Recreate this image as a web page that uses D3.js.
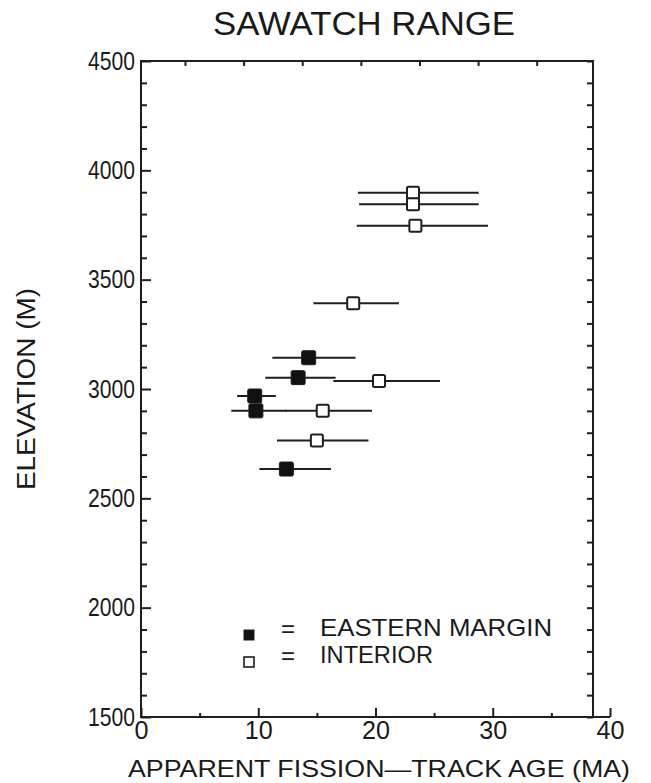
<!DOCTYPE html>
<html>
<head>
<meta charset="utf-8">
<script src="https://cdn.jsdelivr.net/npm/d3@7"></script>
<style>
  body { margin: 0; background: #fff; }
  svg text { font-family: "Liberation Sans", Arial, sans-serif; fill: #1a1a1a; }
</style>
</head>
<body>
<div id="graph"></div>
<script>
// elevation (m) and apparent fission-track age (Ma) with error range
var easternElev = [3143, 3052, 2968, 2900, 2634];
var easternAge  = [14.3, 13.4, 9.7, 9.8, 12.4];
var easternLo   = [11.2, 10.6, 8.2, 7.7, 10.1];
var easternHi   = [18.3, 16.6, 11.5, 12.4, 16.2];

var interiorElev = [3898, 3845, 3746, 3392, 3037, 2900, 2764];
var interiorAge  = [23.2, 23.2, 23.4, 18.1, 20.3, 15.5, 15.0];
var interiorLo   = [18.5, 18.6, 18.4, 14.7, 16.4, 12.3, 11.6];
var interiorHi   = [28.8, 28.8, 29.6, 22.0, 25.5, 19.7, 19.4];

var yMajor = [1500, 2000, 2500, 3000, 3500, 4000, 4500];
var xMajor = [0, 10, 20, 30, 40];
var xMinor = [5, 15, 25, 35];
var xTop   = [3.75, 8.75, 13.75, 18.75, 23.75, 28.75, 33.75];

var W = 651, H = 783;
var pLeft = 141, pRight = 593, pTop = 61, pBottom = 717;

var svg = d3.select('#graph').append('svg')
    .attr('width', W)
    .attr('height', H);

var x = d3.scaleLinear().domain([0, 40]).range([pLeft, pLeft + 469]);
var y = d3.scaleLinear().domain([1500, 4500]).range([pBottom, pTop]);

var yMinor = d3.range(1500, 4501, 100).filter(function (v) { return v % 500 != 0 });
var yAll = d3.range(1500, 4501, 100);

var ink = '#1e1e1e';

// frame
svg.append('rect')
    .attr('x', pLeft).attr('y', pTop)
    .attr('width', pRight - pLeft).attr('height', pBottom - pTop)
    .attr('fill', 'none').attr('stroke', ink).attr('stroke-width', 2);

// bottom axis line continues to 40
svg.append('line')
    .attr('x1', pRight).attr('x2', x(40))
    .attr('y1', pBottom).attr('y2', pBottom)
    .attr('stroke', ink).attr('stroke-width', 2);

function styleAxis(g) {
  g.select('.domain').remove();
  g.selectAll('.tick line').attr('stroke', ink).attr('stroke-width', 2);
}

// left axis
svg.append('g').attr('transform', 'translate(' + pLeft + ',0)')
    .call(d3.axisLeft(y).tickValues(yMinor).tickSize(-6).tickFormat(''))
    .call(styleAxis);
var gl = svg.append('g').attr('transform', 'translate(' + pLeft + ',0)')
    .call(d3.axisLeft(y).tickValues(yMajor).tickSize(-10).tickPadding(6).tickFormat(d3.format('d')))
    .call(styleAxis);
gl.selectAll('text')
    .attr('font-size', 26)
    .attr('fill', ink)
    .attr('textLength', 47)
    .attr('lengthAdjust', 'spacingAndGlyphs');

// right axis
svg.append('g').attr('transform', 'translate(' + pRight + ',0)')
    .call(d3.axisRight(y).tickValues(yAll).tickSize(-6).tickFormat(''))
    .call(styleAxis);

// bottom axis
svg.append('g').attr('transform', 'translate(0,' + pBottom + ')')
    .call(d3.axisBottom(x).tickValues(xMinor).tickSize(-4).tickFormat(''))
    .call(styleAxis);
var gb = svg.append('g').attr('transform', 'translate(0,' + pBottom + ')')
    .call(d3.axisBottom(x).tickValues(xMajor).tickSize(-9).tickPadding(13).tickFormat(d3.format('d')))
    .call(styleAxis);
gb.selectAll('text')
    .attr('font-size', 26)
    .attr('fill', ink)
    .attr('dy', '0.71em')
    .attr('y', 4)
    .attr('textLength', function (d) { return d == 0 ? 14 : 28 })
    .attr('lengthAdjust', 'spacingAndGlyphs');

// top axis (offset ticks as in the original)
svg.append('g').attr('transform', 'translate(0,' + pTop + ')')
    .call(d3.axisTop(x).tickValues(xTop).tickSize(-5).tickFormat(''))
    .call(styleAxis);

// data
function series(elev, age, lo, hi, filled, cls) {
  var d = elev.map(function (e, i) { return { e: e, a: age[i], lo: lo[i], hi: hi[i] } });
  svg.selectAll('line.' + cls).data(d).enter().append('line')
      .attr('class', cls)
      .attr('x1', function (p) { return x(p.lo) })
      .attr('x2', function (p) { return x(p.hi) })
      .attr('y1', function (p) { return y(p.e) })
      .attr('y2', function (p) { return y(p.e) })
      .attr('stroke', ink).attr('stroke-width', 2);
  var s = filled ? 14 : 12;
  svg.selectAll('rect.' + cls).data(d).enter().append('rect')
      .attr('class', cls)
      .attr('x', function (p) { return x(p.a) - s / 2 })
      .attr('y', function (p) { return y(p.e) - s / 2 })
      .attr('width', s).attr('height', s)
      .attr('rx', 1.5)
      .attr('fill', filled ? '#111' : '#fff')
      .attr('stroke', ink)
      .attr('stroke-width', filled ? 1 : 2);
}
series(interiorElev, interiorAge, interiorLo, interiorHi, false, 'interior');
series(easternElev, easternAge, easternLo, easternHi, true, 'eastern');

// legend
var legend = [
  { name: 'EASTERN MARGIN', filled: true, y: 635, w: 232 },
  { name: 'INTERIOR', filled: false, y: 662, w: 113 }
];
legend.forEach(function (l) {
  svg.append('rect')
      .attr('x', 244).attr('y', l.y - 5)
      .attr('width', 10).attr('height', 10)
      .attr('fill', l.filled ? '#111' : '#fff')
      .attr('stroke', ink).attr('stroke-width', l.filled ? 1 : 1.6);
  svg.append('text')
      .attr('x', 288).attr('y', l.y + 2)
      .attr('text-anchor', 'middle')
      .attr('font-size', 24)
      .text('=');
  svg.append('text')
      .attr('x', 320).attr('y', l.y + 1)
      .attr('font-size', 24)
      .attr('textLength', l.w)
      .attr('lengthAdjust', 'spacingAndGlyphs')
      .text(l.name);
});

// titles
svg.append('text')
    .attr('x', 213).attr('y', 35)
    .attr('font-size', 34)
    .attr('textLength', 302)
    .attr('lengthAdjust', 'spacingAndGlyphs')
    .text('SAWATCH RANGE');

svg.append('text')
    .attr('x', 128).attr('y', 777)
    .attr('font-size', 24)
    .attr('textLength', 502)
    .attr('lengthAdjust', 'spacingAndGlyphs')
    .text('APPARENT FISSION\u2014TRACK AGE (MA)');

svg.append('text')
    .attr('transform', 'translate(35,490) rotate(-90)')
    .attr('font-size', 25)
    .attr('textLength', 202)
    .attr('lengthAdjust', 'spacingAndGlyphs')
    .text('ELEVATION (M)');
</script>
</body>
</html>
